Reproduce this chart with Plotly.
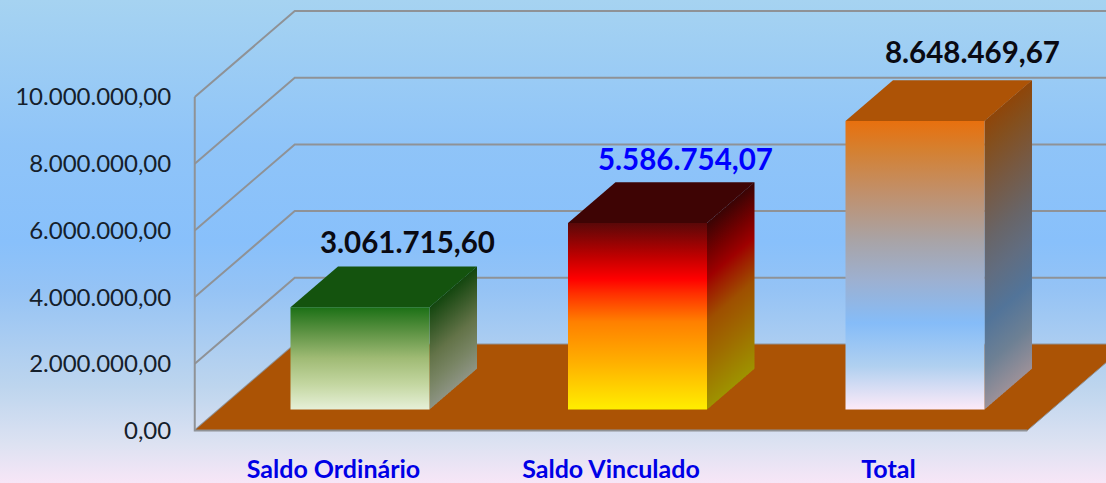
import plotly.graph_objects as go

# ---- data ----
categories = ["Saldo Ordinário", "Saldo Vinculado", "Total"]
values = [3061715.60, 5586754.07, 8648469.67]
value_labels = ["3.061.715,60", "5.586.754,07", "8.648.469,67"]
label_colors = ["#0a0a12", "#0000ff", "#0a0a12"]
label_shift = [0, 0, 10]
label_lift = [5, 4, 9]
tick_values = [0, 2000000, 4000000, 6000000, 8000000, 10000000]
tick_labels = ["0,00", "2.000.000,00", "4.000.000,00", "6.000.000,00", "8.000.000,00", "10.000.000,00"]

# ---- styles ----
front_stops = [
    [[0, "#e6f0d8"], [0.25, "#c3d6a0"], [0.5, "#a0bb75"], [0.75, "#5f9445"], [1, "#1c7016"]],
    [[0, "#ffee00"], [0.25, "#ffb000"], [0.47, "#ff8000"], [0.62, "#ff3000"], [0.70, "#ff0000"], [0.82, "#c00000"], [1, "#5a0808"]],
    [[0, "#fdeaf8"], [0.15, "#b0d0f0"], [0.30, "#85bcf8"], [0.45, "#9db0d0"], [0.58, "#a8a4a8"], [0.75, "#c0906c"], [0.9, "#d58030"], [1, "#e8700e"]],
]
top_colors = ["#14530e", "#3e0404", "#ad5306"]
floor_color = "#ab5305"
grid_color = "#8f9296"
bg_stops = [[0, "#f7e6f7"], [0.08, "#dde2f2"], [0.2, "#bdd5ee"], [0.4, "#95c3f5"], [0.5, "#88c0fb"], [0.7, "#8fc4f8"], [1, "#a6d3f1"]]

# ---- oblique projection (plot units) ----
W, H = 1106, 483
X_PX, Y_PX = 277.5, 33.35e-6          # px per category / px per value
X0_PX, Y0_PX = 333.5, 430.5           # where category 0 / value 0 fall
DEPTH_X = 100 / X_PX                  # full depth shift, in categories
DEPTH_Y = 86 / Y_PX                   # full depth shift, in value units
BAR_HALF = 69.5 / X_PX
BAR_SHIFT = 2 / X_PX
D_FRONT, D_BACK = 0.245, 0.72
LEFT, RIGHT = -0.5, 2.5
YMAX_AXIS = tick_values[-1]


def P(x, v, d):
    return x + d * DEPTH_X, v + d * DEPTH_Y


def poly(points, **kw):
    xs = [p[0] for p in points] + [points[0][0]]
    ys = [p[1] for p in points] + [points[0][1]]
    return go.Scatter(x=xs, y=ys, mode="lines", line=dict(width=0), fill="toself",
                      hoverinfo="skip", showlegend=False, **kw)


def darken(stops, k=0.62):
    out = []
    for pos, c in stops:
        r, g, b = int(c[1:3], 16), int(c[3:5], 16), int(c[5:7], 16)
        out.append([pos, f"rgb({int(r*k)},{int(g*k)},{int(b*k)})"])
    return out


x_range = [-X0_PX / X_PX, (W - X0_PX) / X_PX]
y_range = [-(H - Y0_PX) / Y_PX, Y0_PX / Y_PX]

fig = go.Figure()

# background
fig.add_trace(poly([(x_range[0], y_range[0]), (x_range[1], y_range[0]),
                    (x_range[1], y_range[1]), (x_range[0], y_range[1])],
                   fillgradient=dict(type="vertical", colorscale=bg_stops)))

# walls' gridlines
for v in tick_values:
    pts = [P(LEFT, v, 0), P(LEFT, v, 1), P(RIGHT, v, 1)]
    fig.add_trace(go.Scatter(x=[p[0] for p in pts], y=[p[1] for p in pts], mode="lines",
                             line=dict(color=grid_color, width=2), hoverinfo="skip", showlegend=False))

# floor
fig.add_trace(poly([P(LEFT, 0, 0), P(RIGHT, 0, 0), P(RIGHT, 0, 1), P(LEFT, 0, 1)],
                   fillcolor=floor_color))
# vertical axis line + front edge of the floor
pts = [P(LEFT, YMAX_AXIS, 0), P(LEFT, 0, 0), P(RIGHT, 0, 0)]
fig.add_trace(go.Scatter(x=[p[0] for p in pts], y=[p[1] for p in pts], mode="lines",
                         line=dict(color=grid_color, width=2), hoverinfo="skip", showlegend=False))
pts = [P(RIGHT, 0, 0), P(RIGHT, 0, 1)]
fig.add_trace(go.Scatter(x=[p[0] for p in pts], y=[p[1] for p in pts], mode="lines",
                         line=dict(color=grid_color, width=1), hoverinfo="skip", showlegend=False))

# bars
N = 30
annotations = []
for i, v in enumerate(values):
    xl, xr = i + BAR_SHIFT - BAR_HALF, i + BAR_SHIFT + BAR_HALF
    # side face: sheared gradient, built from thin vertical slivers
    side = darken(front_stops[i])
    for j in range(N):
        d0 = D_FRONT + (D_BACK - D_FRONT) * j / N
        d1 = D_FRONT + (D_BACK - D_FRONT) * min(j + 1.6, N) / N
        fig.add_trace(poly([P(xr, 0, d0), P(xr, 0, d1), P(xr, v, d1), P(xr, v, d0)],
                           fillgradient=dict(type="vertical", colorscale=side)))
    # top face
    fig.add_trace(poly([P(xl, v, D_FRONT), P(xr, v, D_FRONT), P(xr, v, D_BACK), P(xl, v, D_BACK)],
                       fillcolor=top_colors[i]))
    # front face
    fig.add_trace(poly([P(xl, 0, D_FRONT), P(xr, 0, D_FRONT), P(xr, v, D_FRONT), P(xl, v, D_FRONT)],
                       fillgradient=dict(type="vertical", colorscale=front_stops[i])))
    lx, ly = P(i + BAR_SHIFT, v, D_BACK)
    annotations.append(dict(x=lx, y=ly, text=f"<b>{value_labels[i]}</b>", showarrow=False, xanchor="center",
                            yanchor="bottom", xshift=label_shift[i], yshift=label_lift[i],
                            font=dict(family="Lato", size=29.5, color=label_colors[i]),
                            bgcolor="rgba(0,0,0,0)"))

fig.update_layout(
    width=W, height=H, margin=dict(l=0, r=0, t=0, b=0, pad=0),
    paper_bgcolor="#f7e6f7", plot_bgcolor="rgba(0,0,0,0)", showlegend=False,
    annotations=annotations,
    xaxis=dict(range=x_range, tickvals=list(range(len(categories))), ticktext=[f"<b>{c}</b>" for c in categories],
               tickfont=dict(family="Lato", size=25, color="#0000e6"), showgrid=False, zeroline=False,
               showline=False, ticks="outside", ticklen=16, tickcolor="rgba(0,0,0,0)", automargin=False,
               anchor="free", position=(H - Y0_PX) / H, fixedrange=True),
    yaxis=dict(range=y_range, tickvals=tick_values, ticktext=tick_labels,
               tickfont=dict(family="Lato", size=24, color="#15202b"), showgrid=False, zeroline=False,
               showline=False, ticks="outside", ticklen=19, tickcolor="rgba(0,0,0,0)", automargin=False,
               anchor="free", position=195 / W, fixedrange=True),
)

fig.write_html("out.html", config=dict(displayModeBar=False),
               post_script="document.body.style.margin='0';document.documentElement.style.overflow='hidden';")
